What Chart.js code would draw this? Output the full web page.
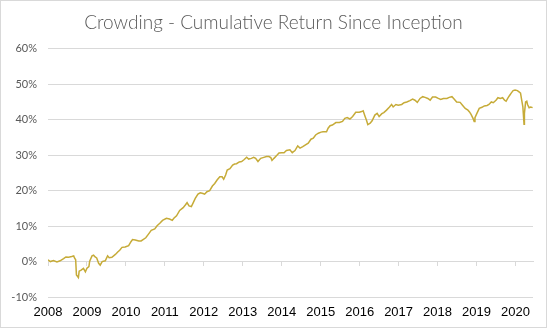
<!DOCTYPE html>
<html>
<head>
<meta charset="utf-8">
<script src="https://cdn.jsdelivr.net/npm/chart.js@4/dist/chart.umd.min.js"></script>
<style>
  html, body { margin: 0; padding: 0; background: #fff; }
  #wrap { width: 547px; height: 328px; position: relative; }
</style>
</head>
<body>
<div id="wrap"><canvas id="c" width="547" height="328"></canvas></div>
<script>
const chartTitle = 'Crowding - Cumulative Return Since Inception';
const yTickValues = [-10, 0, 10, 20, 30, 40, 50, 60];
const xTickYears = [2008, 2009, 2010, 2011, 2012, 2013, 2014, 2015, 2016, 2017, 2018, 2019, 2020];

// decimal year of each observation
const years = [
  2008.00, 2008.06, 2008.14, 2008.23, 2008.31, 2008.40, 2008.46, 2008.53, 2008.61, 2008.66,
  2008.68, 2008.71, 2008.73, 2008.78, 2008.80, 2008.85, 2008.91, 2008.96, 2009.00, 2009.05,
  2009.07, 2009.13, 2009.17, 2009.21, 2009.25, 2009.30, 2009.34, 2009.39, 2009.47, 2009.53,
  2009.57, 2009.64, 2009.73, 2009.79, 2009.84, 2009.90, 2009.98, 2010.07, 2010.13, 2010.17,
  2010.24, 2010.33, 2010.39, 2010.44, 2010.51, 2010.57, 2010.65, 2010.74, 2010.80, 2010.87,
  2010.94, 2011.04, 2011.12, 2011.19, 2011.23, 2011.30, 2011.38, 2011.47, 2011.53, 2011.57,
  2011.62, 2011.68, 2011.72, 2011.78, 2011.85, 2011.91, 2011.98, 2012.02, 2012.08, 2012.15,
  2012.22, 2012.28, 2012.34, 2012.41, 2012.47, 2012.51, 2012.56, 2012.60, 2012.67, 2012.74,
  2012.79, 2012.84, 2012.91, 2012.97, 2013.03, 2013.10, 2013.15, 2013.22, 2013.28, 2013.33,
  2013.39, 2013.46, 2013.52, 2013.61, 2013.67, 2013.72, 2013.75, 2013.80, 2013.87, 2013.93,
  2014.00, 2014.06, 2014.12, 2014.21, 2014.27, 2014.34, 2014.41, 2014.47, 2014.54, 2014.61,
  2014.68, 2014.75, 2014.81, 2014.87, 2014.94, 2015.01, 2015.06, 2015.15, 2015.19, 2015.24,
  2015.30, 2015.39, 2015.48, 2015.56, 2015.62, 2015.68, 2015.75, 2015.82, 2015.90, 2015.99,
  2016.05, 2016.09, 2016.14, 2016.18, 2016.21, 2016.27, 2016.32, 2016.39, 2016.45, 2016.50,
  2016.57, 2016.62, 2016.69, 2016.76, 2016.82, 2016.86, 2016.93, 2016.99, 2017.08, 2017.14,
  2017.21, 2017.29, 2017.36, 2017.42, 2017.48, 2017.55, 2017.62, 2017.68, 2017.75, 2017.81,
  2017.87, 2017.95, 2018.02, 2018.08, 2018.15, 2018.24, 2018.30, 2018.37, 2018.43, 2018.49,
  2018.58, 2018.64, 2018.71, 2018.78, 2018.82, 2018.86, 2018.91, 2018.94, 2018.96, 2019.01,
  2019.07, 2019.14, 2019.20, 2019.27, 2019.32, 2019.38, 2019.43, 2019.50, 2019.55, 2019.61,
  2019.67, 2019.72, 2019.76, 2019.80, 2019.84, 2019.89, 2019.94, 2019.99, 2020.05, 2020.10,
  2020.13, 2020.16, 2020.19, 2020.22, 2020.23, 2020.26, 2020.29, 2020.31, 2020.35, 2020.39,
  2020.44
];

// cumulative return, percent
const cumulativeReturn = [
  0.5, 0.0, 0.3, -0.1, 0.2, 0.8, 1.3, 1.2, 1.4, 1.6,
  1.0, 0.5, -3.8, -4.5, -2.7, -2.4, -1.9, -2.9, -1.9, -1.4,
  0.1, 1.6, 1.8, 1.3, 1.0, -0.5, -1.0, 0.0, 0.2, 1.6,
  1.1, 1.2, 2.0, 2.7, 3.2, 4.0, 4.1, 4.5, 5.6, 6.2,
  6.1, 5.8, 5.8, 6.2, 6.7, 7.6, 8.8, 9.2, 10.1, 10.8,
  11.6, 12.2, 12.0, 11.6, 12.2, 12.9, 14.4, 15.2, 16.0, 16.6,
  15.7, 15.5, 16.4, 17.8, 19.0, 19.4, 19.2, 19.0, 19.7, 20.0,
  21.3, 22.0, 23.0, 23.9, 23.9, 23.2, 24.4, 25.8, 26.2, 27.2,
  27.5, 27.6, 28.1, 28.2, 28.7, 29.4, 28.9, 29.1, 29.4, 29.1,
  28.2, 29.1, 29.3, 29.6, 29.6, 29.3, 28.5, 29.1, 29.9, 30.6,
  30.7, 30.7, 31.3, 31.5, 30.7, 31.3, 32.6, 32.0, 32.4, 32.9,
  33.4, 34.5, 34.8, 35.7, 36.2, 36.5, 36.6, 36.6, 37.6, 38.3,
  38.5, 39.2, 39.2, 39.5, 40.4, 40.6, 40.2, 40.9, 42.1, 42.1,
  42.3, 42.5, 40.9, 39.7, 38.6, 39.0, 39.7, 41.3, 41.8, 40.9,
  41.7, 42.0, 42.7, 43.5, 44.3, 43.6, 44.3, 44.1, 44.3, 44.8,
  45.0, 45.4, 45.8, 45.5, 44.9, 46.0, 46.5, 46.3, 46.0, 45.5,
  46.4, 46.4, 46.0, 45.7, 46.0, 46.0, 46.3, 46.5, 45.8, 45.0,
  44.9, 44.1, 43.2, 42.7, 42.2, 41.5, 40.4, 39.5, 40.6, 41.8,
  43.2, 43.5, 43.9, 44.0, 44.3, 45.0, 44.8, 45.5, 46.2, 46.0,
  46.2, 45.5, 45.2, 46.0, 46.7, 47.5, 48.2, 48.4, 48.2, 47.8,
  47.5, 45.5, 43.6, 38.7, 41.8, 45.0, 45.2, 44.3, 43.4, 43.6,
  43.4
];

const points = years.map((yr, i) => ({ x: yr, y: cumulativeReturn[i] }));

const frame = {
  id: 'frame',
  beforeDraw(chart) {
    const ctx = chart.ctx;
    ctx.save();
    ctx.fillStyle = '#ffffff';
    ctx.fillRect(0, 0, chart.width, chart.height);
    ctx.strokeStyle = '#d9d9d9';
    ctx.lineWidth = 1;
    ctx.strokeRect(0.5, 0.5, chart.width - 1, chart.height - 1);
    ctx.restore();
  },
  afterLayout(chart) {
    const t = chart.titleBlock;
    if (t) { t.left = 0; t.right = chart.width; t.width = chart.width; }
  }
};

const gridGray = '#d9d9d9';

new Chart(document.getElementById('c'), {
  type: 'line',
  data: {
    datasets: [{
      data: points,
      xAxisID: 'x',
      yAxisID: 'y',
      borderColor: '#c6ab38',
      backgroundColor: '#c6ab38',
      borderWidth: 1.5,
      pointRadius: 0,
      tension: 0,
      fill: false
    }]
  },
  options: {
    responsive: false,
    animation: false,
    layout: { padding: { left: 0, right: 14, top: 0, bottom: 0 } },
    plugins: {
      legend: { display: false },
      tooltip: { enabled: false },
      title: {
        display: true,
        text: chartTitle,
        color: '#595959',
        font: { family: 'Lato', size: 19, weight: '300' },
        padding: { top: 11, bottom: 15 }
      }
    },
    scales: {
      x: {
        type: 'linear',
        position: 'bottom',
        min: xTickYears[0],
        max: 2020.45,
        grid: { display: false, drawTicks: false },
        border: { display: false },
        afterFit(scale) { scale.height = 31; },
        afterBuildTicks(scale) { scale.ticks = xTickYears.map(v => ({ value: v })); },
        ticks: {
          includeBounds: false,
          autoSkip: false,
          maxRotation: 0,
          padding: 8,
          color: '#000000',
          font: { family: 'Liberation Sans', size: 13 },
          callback: (v) => String(v)
        }
      },
      x0: {
        type: 'linear',
        axis: 'x',
        position: { y: 0 },
        min: xTickYears[0],
        max: 2020.45,
        afterBuildTicks(scale) { scale.ticks = xTickYears.map(v => ({ value: v })); },
        grid: { drawOnChartArea: false, drawTicks: true, tickLength: 4, color: gridGray },
        border: { display: true, color: gridGray },
        ticks: { display: false }
      },
      y: {
        type: 'linear',
        min: yTickValues[0],
        max: yTickValues[yTickValues.length - 1],
        afterFit(scale) { scale.width = 48; },
        afterBuildTicks(scale) { scale.ticks = yTickValues.map(v => ({ value: v })); },
        grid: { color: gridGray, drawTicks: false, lineWidth: 1 },
        border: { display: false },
        ticks: {
          padding: 11,
          color: '#595959',
          font: { family: 'Lato', size: 11 },
          callback: (v) => v + '%'
        }
      }
    }
  },
  plugins: [frame]
});
</script>
</body>
</html>
